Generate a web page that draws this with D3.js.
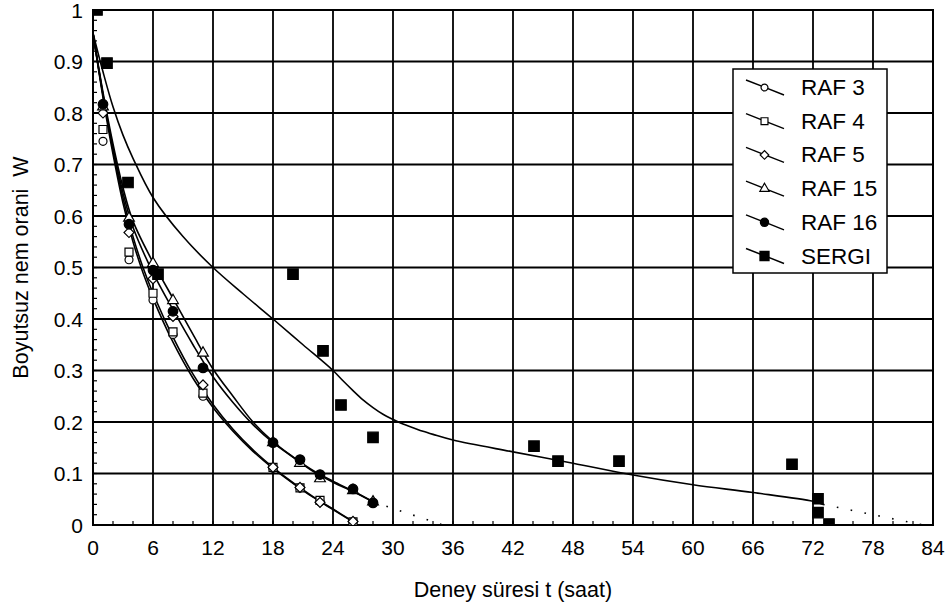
<!DOCTYPE html>
<html>
<head>
<meta charset="utf-8">
<script src="https://cdn.jsdelivr.net/npm/d3@7"></script>
<style>
body { margin: 0; background: #fff; }
text { font-family: "Liberation Sans", Arial, sans-serif; fill: #000; }
</style>
</head>
<body>
<svg id="chart" width="952" height="608"></svg>
<script>
width = 952
height = 608
var margin = {left: 93, right: 19, top: 10, bottom: 83}

//tick labels
var xTicks = [0, 6, 12, 18, 24, 30, 36, 42, 48, 54, 60, 66, 72, 78, 84]
var yTicks = [0, 0.1, 0.2, 0.3, 0.4, 0.5, 0.6, 0.7, 0.8, 0.9, 1]
var yTickLabels = ["0", "0.1", "0.2", "0.3", "0.4", "0.5", "0.6", "0.7", "0.8", "0.9", "1"]

//measured points [t, W]
var raf3 = [[1,0.745],[3.6,0.515],[6,0.437],[8,0.37],[11,0.25],[18,0.11],[20.7,0.072],[22.7,0.045],[26,0.006]]
var raf4 = [[1,0.768],[3.6,0.53],[6,0.45],[8,0.375],[11,0.256],[18,0.112],[20.7,0.072],[22.7,0.048],[26,0.006]]
var raf5 = [[1,0.80],[3.6,0.568],[6,0.478],[8,0.405],[11,0.272],[18,0.112],[20.7,0.073],[22.7,0.044],[26,0.007]]
var raf15 = [[1,0.812],[3.6,0.596],[6,0.508],[8,0.436],[11,0.334],[18,0.16],[20.7,0.12],[22.7,0.09],[26,0.067],[28,0.045]]
var raf16 = [[1,0.817],[3.6,0.584],[6,0.495],[8,0.415],[11,0.305],[18,0.16],[20.7,0.127],[22.7,0.098],[26,0.07],[28,0.043]]
var sergi = [[0.4,1.0],[1.4,0.897],[3.5,0.665],[6.5,0.487],[20,0.487],[23,0.338],[24.8,0.233],[28,0.17],[44.1,0.153],[46.5,0.124],[52.6,0.124],[69.9,0.118],[72.5,0.051],[72.5,0.024],[73.6,0.002]]

//fitted curves
var fitLow = [[0,0.955],[1,0.83],[2,0.72],[3,0.625],[4,0.55],[5,0.49],[6,0.44],[8,0.355],[10,0.285],[12,0.228],[14,0.182],[16,0.143],[18,0.11],[20,0.081],[22,0.054],[24,0.03],[26,0.006]]
var fitRaf5 = [[0,0.955],[1,0.835],[2,0.728],[3,0.635],[4,0.56],[5,0.5],[6,0.45],[8,0.365],[10,0.293],[12,0.234],[14,0.186],[16,0.146],[18,0.112],[20,0.082],[22,0.055],[24,0.031],[26,0.007]]
var fitRaf15 = [[0,0.955],[1,0.84],[2,0.74],[3,0.655],[4,0.59],[6,0.51],[8,0.44],[10,0.37],[12,0.303],[14,0.25],[16,0.2],[18,0.162],[20,0.132],[22,0.104],[24,0.083],[26,0.065],[28,0.045]]
var fitRaf16 = [[0,0.955],[1,0.835],[2,0.732],[3,0.645],[4,0.578],[6,0.49],[8,0.418],[10,0.35],[12,0.288],[14,0.238],[16,0.195],[18,0.16],[20,0.132],[22,0.106],[24,0.085],[26,0.066],[28,0.045]]
var fitSergi = [[0,0.955],[1,0.88],[2,0.812],[3,0.757],[4,0.712],[6,0.636],[9,0.56],[12,0.5],[15,0.449],[18,0.4],[21,0.35],[24,0.3],[25,0.28],[26,0.261],[27,0.243],[28,0.228],[29,0.215],[30,0.205],[31,0.196],[32,0.189],[33,0.182],[34,0.176],[36,0.165],[42,0.142],[48,0.12],[54,0.097],[60,0.078],[66,0.063],[72,0.046],[73,0.04]]
var dotRaf = [[28,0.045],[35,0]]
var dotSergi = [[73,0.04],[83,0]]

var seriesNames = ["RAF 3", "RAF 4", "RAF 5", "RAF 15", "RAF 16", "SERGI"]

var svg = d3.select("#chart")

var x = d3.scaleLinear().domain([0, 84]).range([margin.left, width - margin.right])
var y = d3.scaleLinear().domain([0, 1]).range([height - margin.bottom, margin.top])

svg.append("defs").append("clipPath").attr("id", "clip")
    .append("rect")
    .attr("x", x(0)).attr("y", y(1))
    .attr("width", x(84) - x(0)).attr("height", y(0) - y(1))

//grid
svg.append("g").selectAll("line").data(xTicks.slice(1, -1)).enter().append("line")
    .attr("x1", d => x(d)).attr("x2", d => x(d))
    .attr("y1", y(0)).attr("y2", y(1))
    .attr("stroke", "#000").attr("stroke-width", 1.8)
svg.append("g").selectAll("line").data(yTicks.slice(1, -1)).enter().append("line")
    .attr("x1", x(0)).attr("x2", x(84))
    .attr("y1", d => y(d)).attr("y2", d => y(d))
    .attr("stroke", "#000").attr("stroke-width", 1.8)

//minor ticks
var minorX = d3.range(0, 85, 2)
var minorY = d3.range(0, 1.001, 0.02)
svg.append("g").selectAll("line").data(minorX).enter().append("line")
    .attr("x1", d => x(d)).attr("x2", d => x(d))
    .attr("y1", y(0)).attr("y2", y(0) - 4)
    .attr("stroke", "#000").attr("stroke-width", 1.2)
svg.append("g").selectAll("line").data(minorY).enter().append("line")
    .attr("x1", x(0)).attr("x2", x(0) + 4)
    .attr("y1", d => y(d)).attr("y2", d => y(d))
    .attr("stroke", "#000").attr("stroke-width", 1.2)

//frame
svg.append("rect")
    .attr("x", x(0)).attr("y", y(1))
    .attr("width", x(84) - x(0)).attr("height", y(0) - y(1))
    .attr("fill", "none").attr("stroke", "#000").attr("stroke-width", 2)

//tick labels
svg.append("g").selectAll("text").data(xTicks).enter().append("text")
    .attr("x", d => x(d)).attr("y", y(0) + 30)
    .attr("text-anchor", "middle")
    .attr("font-size", "21px")
    .text(d => d)
svg.append("g").selectAll("text").data(yTicks).enter().append("text")
    .attr("x", x(0) - 10).attr("y", d => y(d) + 7.5)
    .attr("text-anchor", "end")
    .attr("font-size", "21px")
    .text((d, i) => yTickLabels[i])

//axis titles
svg.append("text")
    .attr("x", (x(0) + x(84)) / 2).attr("y", 597)
    .attr("text-anchor", "middle")
    .attr("font-size", "21.5px")
    .text("Deney süresi t (saat)")
svg.append("text")
    .attr("transform", "translate(28," + ((y(0) + y(1)) / 2) + ") rotate(-90)")
    .attr("text-anchor", "middle")
    .attr("font-size", "21.5px")
    .style("white-space", "pre")
    .text("Boyutsuz nem orani  W")

//curves
var line = d3.line().x(d => x(d[0])).y(d => y(d[1])).curve(d3.curveCatmullRom.alpha(0.5))
var plot = svg.append("g").attr("clip-path", "url(#clip)")

var fits = [fitLow, fitRaf5, fitRaf15, fitRaf16, fitSergi]
plot.selectAll("path.fit").data(fits).enter().append("path")
    .attr("class", "fit")
    .attr("d", line)
    .attr("fill", "none").attr("stroke", "#000").attr("stroke-width", 1.6)

plot.selectAll("path.dot").data([dotRaf, dotSergi]).enter().append("path")
    .attr("class", "dot")
    .attr("d", d3.line().x(d => x(d[0])).y(d => y(d[1])))
    .attr("fill", "none").attr("stroke", "#000").attr("stroke-width", 1.6)
    .attr("stroke-dasharray", "1.6,12.5")

//markers
var shapes = [
    {type: d3.symbolCircle, size: 50, fill: "#fff", rot: 0},
    {type: d3.symbolSquare, size: 64, fill: "#fff", rot: 0},
    {type: d3.symbolSquare, size: 50, fill: "#fff", rot: 45},
    {type: d3.symbolTriangle, size: 50, fill: "#fff", rot: 0},
    {type: d3.symbolCircle, size: 72, fill: "#000", rot: 0},
    {type: d3.symbolSquare, size: 110, fill: "#000", rot: 0}
]
var allData = [raf3, raf4, raf5, raf15, raf16, sergi]

allData.forEach(function(data, i) {
    plot.append("g").selectAll("path").data(data).enter().append("path")
        .attr("transform", d => "translate(" + x(d[0]) + "," + y(d[1]) + ") rotate(" + shapes[i].rot + ")")
        .attr("d", d3.symbol().type(shapes[i].type).size(shapes[i].size))
        .attr("fill", shapes[i].fill)
        .attr("stroke", "#000").attr("stroke-width", 1.2)
})

//legend
var legend = svg.append("g")
legend.append("rect")
    .attr("x", 733).attr("y", 69).attr("width", 154).attr("height", 204)
    .attr("fill", "#fff").attr("stroke", "#000").attr("stroke-width", 1.5)

seriesNames.forEach(function(name, i) {
    var yy = 87 + i * 33.7
    legend.append("line")
        .attr("x1", 746).attr("y1", yy - 7).attr("x2", 784).attr("y2", yy + 8)
        .attr("stroke", "#000").attr("stroke-width", 1.4)
    legend.append("path")
        .attr("transform", "translate(764.5," + (yy + 0.5) + ") rotate(" + shapes[i].rot + ")")
        .attr("d", d3.symbol().type(shapes[i].type).size(shapes[i].size * 0.75))
        .attr("fill", shapes[i].fill)
        .attr("stroke", "#000").attr("stroke-width", 1.2)
    legend.append("text")
        .attr("x", 801).attr("y", yy + 8)
        .attr("font-size", "22.5px")
        .text(name)
})
</script>
</body>
</html>
